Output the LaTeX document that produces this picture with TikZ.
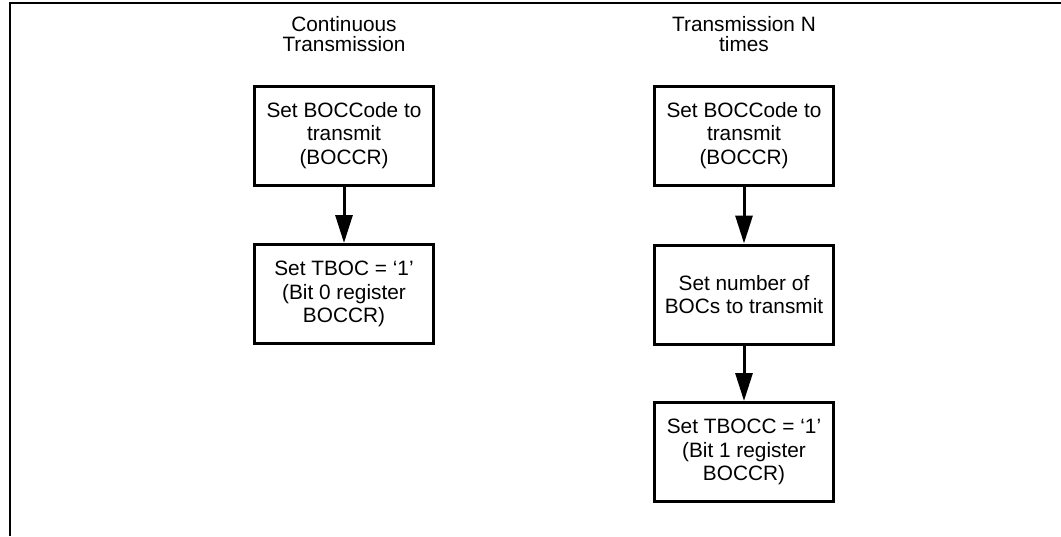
\documentclass[tikz,border=0pt]{standalone}
\usepackage{fontspec}
\setmainfont{Liberation Sans}
\usetikzlibrary{arrows.meta}
\begin{document}
\begin{tikzpicture}[x=1pt,y=-1pt,
  stepbox/.style={draw,line width=3pt,minimum width=179pt,minimum height=99pt,
    align=center,inner sep=0pt,font=\fontsize{20.8}{23.5}\selectfont},
  title/.style={align=center,font=\fontsize{20.8}{20}\selectfont},
  flow/.style={line width=3pt,-{Triangle[length=28pt,width=17pt]}}]
  \useasboundingbox (0,0) rectangle (1061,536);
  % frame corner
  \coordinate (ftr) at (1061,3);
  \coordinate (ftl) at (10,3);
  \coordinate (fbl) at (10,536);
  \draw[line width=2pt] (ftr) -- (ftl) -- (fbl);
  % left column: continuous transmission
  \node[title] (tA) at (344,34) {Continuous\\Transmission};
  \node[stepbox] (a1) at (344,135.5) {Set BOCCode to\\transmit\\(BOCCR)};
  \node[stepbox] (a2) at (344,294) {Set TBOC = ‘1’\\(Bit 0 register\\BOCCR)};
  \draw[flow] (a1) -- (a2);
  % right column: transmission N times
  \node[title] (tB) at (744,34) {Transmission N\\times};
  \node[stepbox] (b1) at (744,135.5) {Set BOCCode to\\transmit\\(BOCCR)};
  \node[stepbox] (b2) at (744,294.5) {Set number of\\BOCs to transmit};
  \node[stepbox] (b3) at (744,452) {Set TBOCC = ‘1’\\(Bit 1 register\\BOCCR)};
  \draw[flow] (b1) -- (b2);
  \draw[flow] (b2) -- (b3);
\end{tikzpicture}
\end{document}
